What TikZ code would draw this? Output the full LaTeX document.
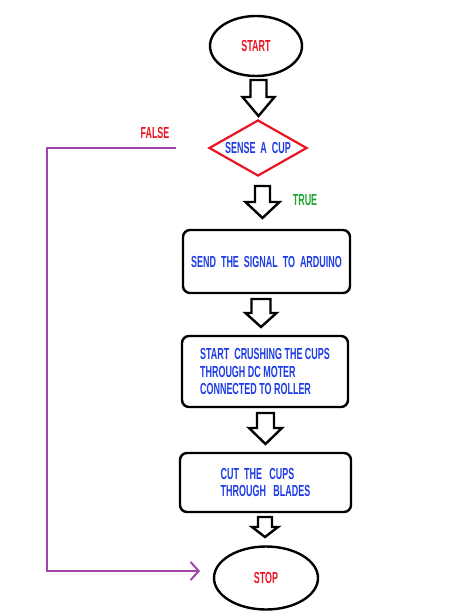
\documentclass[tikz,border=0pt]{standalone}
\usepackage{fontspec}
\setmainfont{Liberation Sans}[FakeStretch=0.56]
\usepackage{tikz}
\usetikzlibrary{calc,shapes.geometric,arrows.meta}
\definecolor{txtblue}{RGB}{30,60,230}
\definecolor{txtred}{RGB}{235,20,35}
\definecolor{txtgreen}{RGB}{30,165,50}
\definecolor{loopviolet}{RGB}{160,70,170}
\def\blockarrow(#1,#2,#3,#4,#5,#6){\draw[hollow] ({#1-#5},#2) -- ({#1+#5},#2) -- ({#1+#5},#3) -- ({#1+#6},#3) -- (#1,#4) -- ({#1-#6},#3) -- ({#1-#5},#3) -- cycle;}
\tikzset{
  hollow/.style={line width=2.4pt, line join=miter, fill=white},
  terminal/.style={ellipse, draw, line width=2.4pt, inner sep=0pt, text=txtred, font=\fontsize{16}{18}\selectfont\bfseries},
  decision/.style={diamond, aspect=1.75, draw=txtred, line width=2.2pt, inner sep=0pt, text=txtblue, font=\fontsize{16}{18}\selectfont\bfseries},
  process/.style={rectangle, rounded corners=7pt, draw, line width=2.4pt, text=txtblue, align=left, font=\fontsize{16}{17.5}\selectfont\bfseries},
  falseline/.style={draw=loopviolet, line width=2pt}
}
\begin{document}
\begin{tikzpicture}[x=1pt, y=-1pt]
		%%%%% START %%%%%
		\useasboundingbox (0,0) rectangle (466,615);
		
		\node[terminal, minimum width=92pt, minimum height=60pt] (start) at (256,46) {START};
		\blockarrow(258.5,80,97,116,8,16)
		
		\node[decision, minimum width=98pt, minimum height=56pt] (sense) at (258,148) {SENSE\ \ A\ \ CUP};
		\blockarrow(262.5,186,202,218,7.5,17)
		\node[text=txtgreen, font=\fontsize{16}{18}\selectfont\bfseries] (true) at (305,200) {TRUE};
		
		\node[process, minimum width=167pt, minimum height=63pt] (signal) at (266.5,261.5) {SEND\ \ THE\ \ SIGNAL\ \ TO\ \ ARDUINO};
		\blockarrow(261,299,313,327,9.5,15.5)
		
		\node[process, minimum width=166pt, minimum height=71pt] (crush) at (265,371.5) {START\ \ CRUSHING THE CUPS\\THROUGH DC MOTER\\CONNECTED TO ROLLER};
		\blockarrow(265.5,413,428,444,8.5,16.5)
		
		\node[process, minimum width=171pt, minimum height=59pt] (cut) at (265.5,482.5) {CUT\ \ THE\ \ \ CUPS\\THROUGH\ \ \ BLADES};
		\blockarrow(265,517,527,537,7,13)
		
		\node[terminal, minimum width=104pt, minimum height=63pt] (stop) at (266,578) {STOP};
		
		% false branch
		\node[text=txtred, font=\fontsize{16}{18}\selectfont\bfseries] (false) at (155,133) {FALSE};
		\coordinate (loopstart) at (176,148);
		\coordinate (loopcorner) at (47,148);
		\coordinate (loopend) at (200,571);
		\draw[falseline, -{Straight Barb[length=8pt, width=18pt, line width=2pt]}] (loopstart) -- (loopcorner) |- (loopend);
		
		%%%%% END %%%%%
\end{tikzpicture}
\end{document}
